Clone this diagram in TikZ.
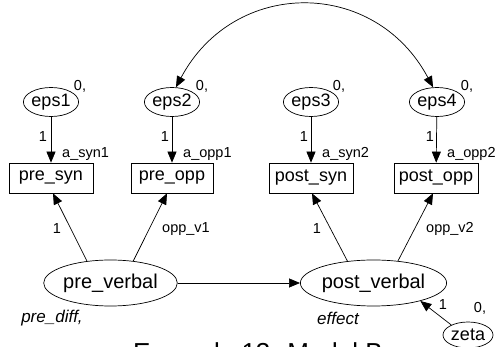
\documentclass[tikz,border=0pt]{standalone}
\usepackage{fontspec}
\setmainfont{Liberation Sans}
\usetikzlibrary{arrows.meta,shapes.geometric,calc}
\begin{document}
\begin{tikzpicture}[x=1pt,y=-1pt,
  obs/.style={draw, rectangle, minimum width=84pt, minimum height=30pt, inner sep=0pt, line width=0.7pt, font=\fontsize{18}{18}\selectfont},
  err/.style={draw, ellipse, minimum width=49pt, minimum height=29pt, inner sep=0pt, line width=0.7pt, font=\fontsize{18}{18}\selectfont},
  lat/.style={draw, ellipse, minimum width=123pt, minimum height=46pt, inner sep=0pt, line width=0.7pt, font=\fontsize{20}{20}\selectfont},
  lbl/.style={inner sep=0pt, font=\fontsize{14.5}{15}\selectfont},
  note/.style={inner sep=0pt, font=\fontsize{17}{17}\selectfont\itshape},
  arr/.style={-{Triangle[length=11pt,width=9pt]}, line width=0.7pt},
  darr/.style={{Triangle[length=11pt,width=9pt]}-{Triangle[length=11pt,width=9pt]}, line width=0.7pt}
]
\useasboundingbox (0,0) rectangle (496,347);
\clip (0,0) rectangle (496,347);

% error terms
\node[err] (eps1) at (51,102) {eps1};
\node[err] (eps2) at (172,102) {eps2};
\node[err] (eps3) at (311,102) {eps3};
\node[err] (eps4) at (437,102) {eps4};
\node[lbl] (v1) at (80,86) {0,};
\node[lbl] (v2) at (202,86) {0,};
\node[lbl] (v3) at (339,86) {0,};
\node[lbl] (v4) at (467,86) {0,};

% observed
\node[obs] (pre_syn) at (51,178) {pre\_syn};
\node[obs, minimum width=82pt] (pre_opp) at (172,178) {pre\_opp};
\node[obs] (post_syn) at (311,178) {post\_syn};
\node[obs] (post_opp) at (436,178) {post\_opp};

% latent
\node[lat] (pre_verbal) at (110.5,283) {pre\_verbal};
\node[lat] (post_verbal) at (373.5,283) {post\_verbal};
\node[err, minimum width=50pt, minimum height=26pt] (zeta) at (468,335) {zeta};

% error arrows
\draw[arr] (eps1) -- (pre_syn);
\draw[arr] (eps2) -- (pre_opp);
\draw[arr] (eps3) -- (post_syn);
\draw[arr] (eps4) -- (post_opp);
\node[lbl] (l1) at (43,137) {1};
\node[lbl] (l2) at (165,137) {1};
\node[lbl] (l3) at (304,137) {1};
\node[lbl] (l4) at (430,137) {1};
\node[lbl, anchor=west] (a1) at (62,154) {a\_syn1};
\node[lbl, anchor=west] (a2) at (183,154) {a\_opp1};
\node[lbl, anchor=west] (a3) at (322,154) {a\_syn2};
\node[lbl, anchor=west] (a4) at (447,154) {a\_opp2};

% loadings
\draw[arr] (pre_verbal.137) -- ([xshift=2pt]pre_syn.south);
\draw[arr] (pre_verbal.44) -- ([xshift=-5pt]pre_opp.south);
\draw[arr] (post_verbal.140) -- ([xshift=1pt]post_syn.south);
\draw[arr] (post_verbal.42) -- ([xshift=-3pt]post_opp.south);
\node[lbl] (k1) at (57,229) {1};
\node[lbl] (k2) at (186,229) {opp\_v1};
\node[lbl] (k3) at (317,229) {1};
\node[lbl] (k4) at (450,229) {opp\_v2};

% structural
\draw[arr] (pre_verbal.east) -- (post_verbal.west);
\draw[arr] (zeta.149) -- (post_verbal.339);
\node[lbl] (z1) at (443,305) {1};
\node[lbl] (z0) at (480,308) {0,};

% covariance
\draw[darr] (eps2.75) .. controls +(-62:124) and +(-118:124) .. (eps4.105);

% notes
\node[note] (pd) at (52,318) {pre\_diff,};
\node[note] (ef) at (338,318) {effect};

% title
\node[inner sep=0pt, anchor=base west, font=\fontsize{26}{26}\selectfont] (title) at (133,362) {Example 13: Model B};
\end{tikzpicture}
\end{document}
